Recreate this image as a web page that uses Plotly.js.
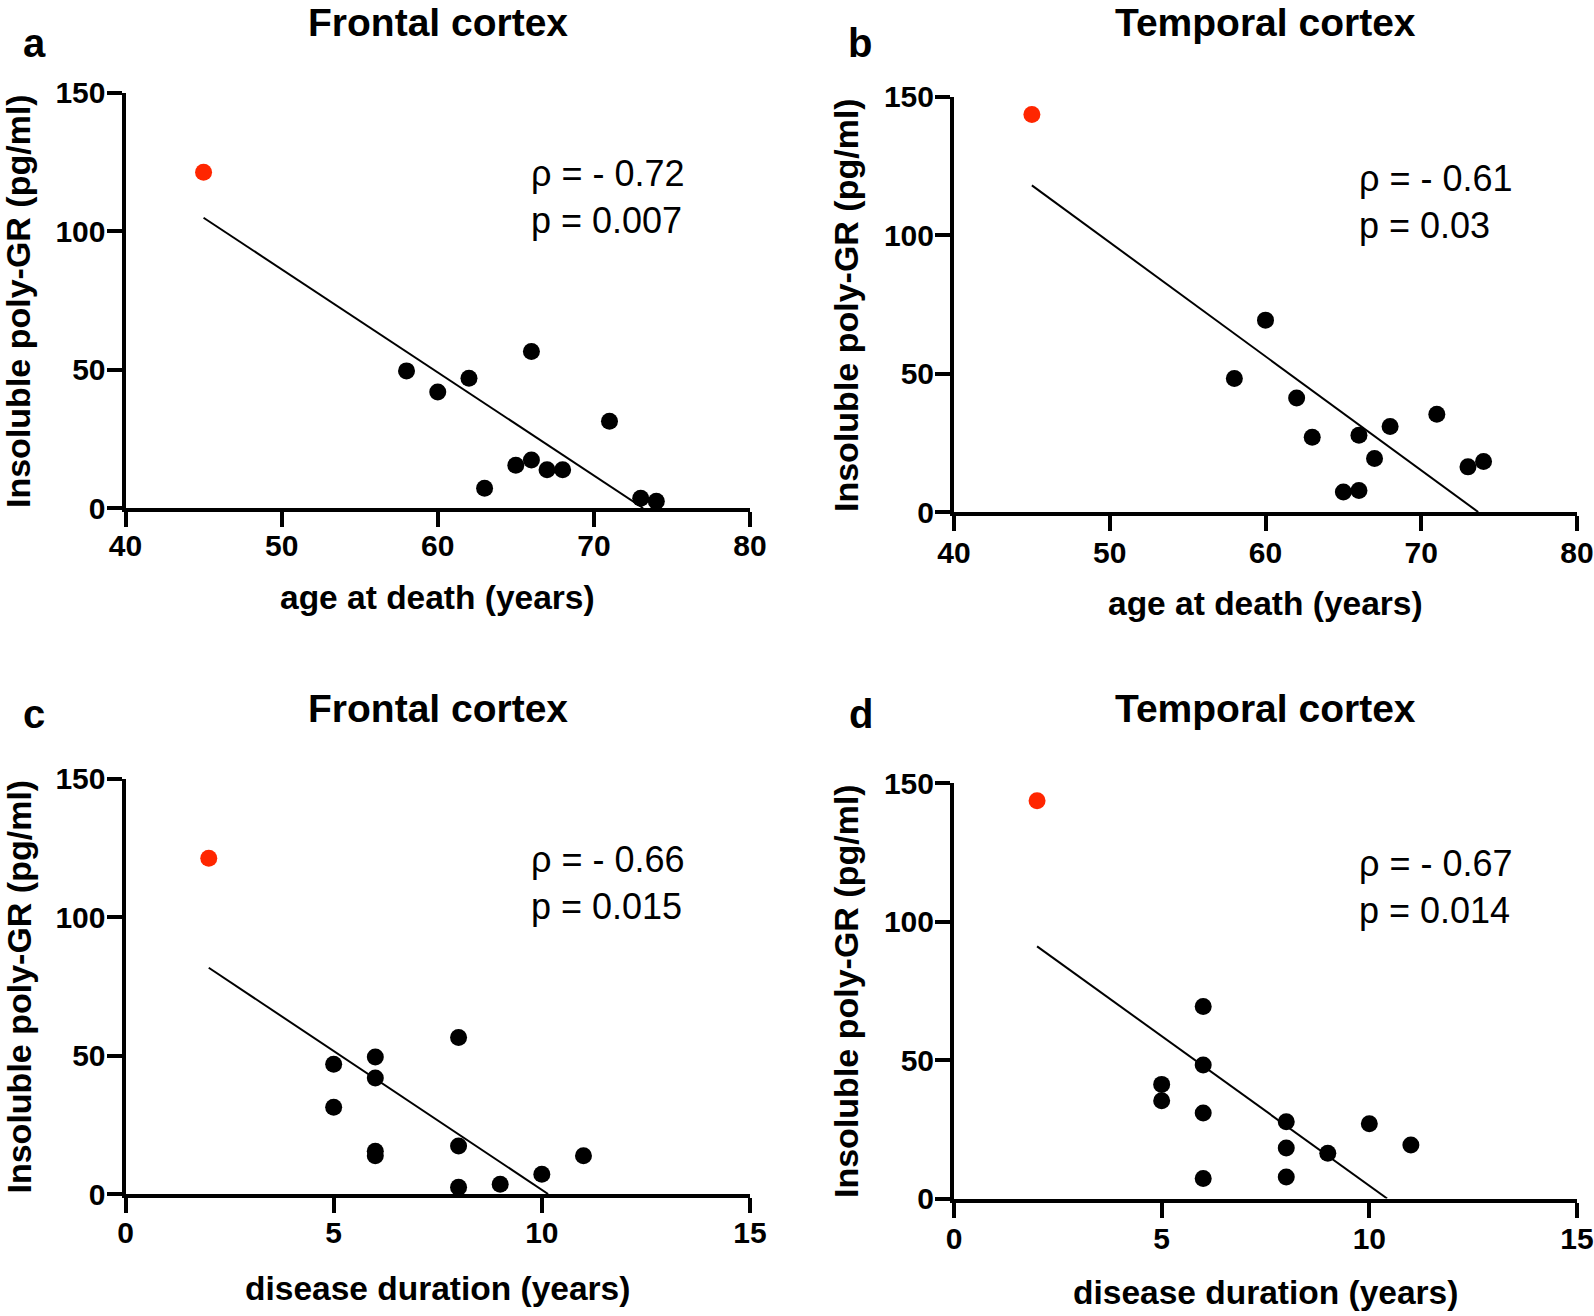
<!DOCTYPE html>
<html><head><meta charset="utf-8">
<script src="https://cdn.plot.ly/plotly-3.0.1.min.js"></script>
<style>html,body{margin:0;padding:0;background:#fff}#chart{width:1594px;height:1316px}</style>
</head><body><div id="chart"></div>
<script>
// ---- data (one entry per patient) ----
const ageAtDeath      = [45, 58, 60, 62, 63, 65, 66, 66, 67, 68, 71, 73, 74];
const diseaseDuration = [2, 6, 6, 5, 10, 6, 8, 8, 11, 6, 5, 9, 8];
const frontalPolyGR   = [121.2, 49.5, 41.9, 46.8, 7.1, 15.4, 56.5, 17.3, 13.8, 13.8, 31.3, 3.5, 2.4];
const temporalPolyGR  = [143.6, 48.2, 69.3, 41.2, 27.0, 7.2, 27.7, 7.8, 19.3, 30.9, 35.3, 16.3, 18.2];
const highlighted     = [true, false, false, false, false, false, false, false, false, false, false, false, false];

const panelLetters = ['a', 'b', 'c', 'd'];
const panelTitles  = ['Frontal cortex', 'Temporal cortex', 'Frontal cortex', 'Temporal cortex'];
const rhoLabels    = ['- 0.72', '- 0.61', '- 0.66', '- 0.67'];
const pLabels      = ['0.007', '0.03', '0.015', '0.014'];
const xTitles      = ['age at death (years)', 'age at death (years)', 'disease duration (years)', 'disease duration (years)'];
const yTitle       = 'Insoluble poly-GR (pg/ml)';
const ageTicks      = [40, 50, 60, 70, 80];
const durationTicks = [0, 5, 10, 15];
const polyTicks     = [0, 50, 100, 150];

const panelX = [ageAtDeath, ageAtDeath, diseaseDuration, diseaseDuration];
const panelY = [frontalPolyGR, temporalPolyGR, frontalPolyGR, temporalPolyGR];
const panelXTicks = [ageTicks, ageTicks, durationTicks, durationTicks];

// ---- layout geometry (pixels) ----
const W = 1594, H = 1316;
const geom = [
  {l:125.5, r:750,   t:92.5, b:508,   xStand:-7, titleY:22,   letterX:21,  letterY:42.8,  xtY:597,  ytX:18,  ytY:301,   annX:529,    annY:196.8},
  {l:954,   r:1577,  t:96.7, b:512,   xStand:-4, titleY:22.4, letterX:846, letterY:42.8,  xtY:603.8,ytX:846, ytY:305,   annX:1356.5, annY:201.9},
  {l:125.5, r:750,   t:778.5,b:1194,  xStand:-6, titleY:708.5,letterX:21,  letterY:713.6, xtY:1288, ytX:18,  ytY:986.5, annX:529,    annY:883},
  {l:954,   r:1577,  t:783,  b:1198.5,xStand:-5, titleY:708.5,letterX:847, letterY:713.6, xtY:1292, ytX:846, ytY:991,   annX:1356.5, annY:887}
];
const px = v => v / W;
const py = v => 1 - v / H;
const FONT = 'Liberation Sans, Arial, Helvetica, sans-serif';
const RED = '#ff2600';

function fit(xs, ys) {
  const n = xs.length;
  const mx = xs.reduce((a, b) => a + b, 0) / n;
  const my = ys.reduce((a, b) => a + b, 0) / n;
  let sxy = 0, sxx = 0;
  for (let i = 0; i < n; i++) { sxy += (xs[i] - mx) * (ys[i] - my); sxx += (xs[i] - mx) ** 2; }
  const slope = sxy / sxx, icpt = my - slope * mx;
  const x0 = Math.min(...xs);
  let x1 = Math.max(...xs);
  const xz = -icpt / slope;
  if (slope < 0 && xz < x1) x1 = xz;
  return {x: [x0, x1], y: [icpt + slope * x0, icpt + slope * x1]};
}

const data = [];
const layout = {
  width: W, height: H,
  margin: {l: 0, r: 0, t: 0, b: 0},
  paper_bgcolor: '#fff', plot_bgcolor: 'rgba(0,0,0,0)',
  showlegend: false,
  font: {family: FONT, color: '#000'},
  annotations: []
};

for (let k = 0; k < 4; k++) {
  const g = geom[k];
  const xs = panelX[k], ys = panelY[k];
  const sfx = k === 0 ? '' : String(k + 1);
  const xa = 'x' + sfx, ya = 'y' + sfx;
  const line = fit(xs, ys);
  data.push({type: 'scatter', mode: 'lines', x: line.x, y: line.y, xaxis: xa, yaxis: ya,
             line: {color: '#000', width: 2}, hoverinfo: 'skip'});
  data.push({type: 'scatter', mode: 'markers', x: xs, y: ys, xaxis: xa, yaxis: ya, cliponaxis: false,
             marker: {size: 17, color: highlighted.map(h => h ? RED : '#000'), line: {width: 0}}});
  const xt = panelXTicks[k];
  layout['xaxis' + sfx] = {
    domain: [px(g.l), px(g.r)], anchor: ya, range: [xt[0], xt[xt.length - 1]],
    tickmode: 'array', tickvals: xt, ticktext: xt.map(String),
    showline: true, linewidth: 4, linecolor: '#000', ticks: 'outside', ticklen: 15, tickwidth: 4, tickcolor: '#000',
    ticklabelstandoff: g.xStand,
    showgrid: false, zeroline: false, fixedrange: true,
    tickfont: {family: FONT, size: 30, color: '#000', weight: 'bold'}
  };
  layout['yaxis' + sfx] = {
    domain: [py(g.b), py(g.t)], anchor: xa, range: [polyTicks[0], polyTicks[polyTicks.length - 1]],
    tickmode: 'array', tickvals: polyTicks, ticktext: polyTicks.map(String),
    showline: true, linewidth: 4, linecolor: '#000', ticks: 'outside', ticklen: 15, tickwidth: 4, tickcolor: '#000',
    ticklabelstandoff: -5,
    showgrid: false, zeroline: false, fixedrange: true,
    tickfont: {family: FONT, size: 30, color: '#000', weight: 'bold'}
  };
  const cx = (g.l + g.r) / 2;
  layout.annotations.push(
    {xref: 'paper', yref: 'paper', x: px(cx), y: py(g.titleY), xanchor: 'center', yanchor: 'middle', showarrow: false,
     text: panelTitles[k], font: {family: FONT, size: 39, color: '#000', weight: 'bold'}},
    {xref: 'paper', yref: 'paper', x: px(g.letterX), y: py(g.letterY), xanchor: 'left', yanchor: 'middle', showarrow: false,
     text: panelLetters[k], font: {family: FONT, size: 40, color: '#000', weight: 'bold'}},
    {xref: 'paper', yref: 'paper', x: px(cx), y: py(g.xtY), xanchor: 'center', yanchor: 'middle', showarrow: false,
     text: xTitles[k], font: {family: FONT, size: 33.5, color: '#000', weight: 'bold'}},
    {xref: 'paper', yref: 'paper', x: px(g.ytX), y: py(g.ytY), xanchor: 'center', yanchor: 'middle', showarrow: false, textangle: -90,
     text: yTitle, font: {family: FONT, size: 34, color: '#000', weight: 'bold'}},
    {xref: 'paper', yref: 'paper', x: px(g.annX), y: py(g.annY), xanchor: 'left', yanchor: 'middle', align: 'left', showarrow: false,
     text: 'ρ = ' + rhoLabels[k] + '<br>p = ' + pLabels[k], font: {family: FONT, size: 36, color: '#000'}}
  );
}

Plotly.newPlot('chart', data, layout, {displayModeBar: false, staticPlot: true});
</script>
</body></html>
